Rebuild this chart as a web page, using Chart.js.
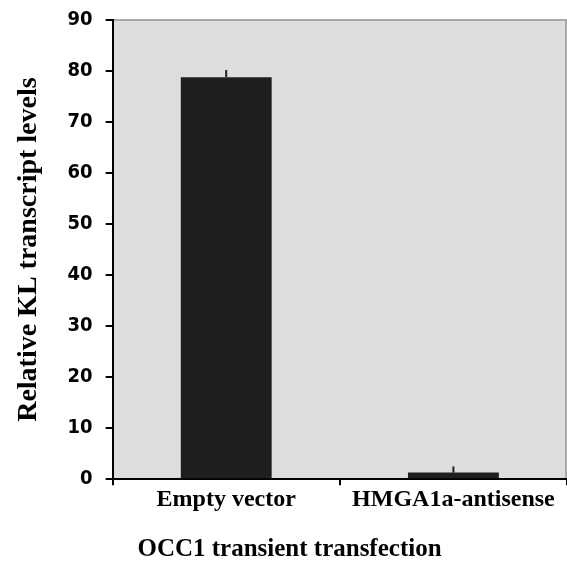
<!DOCTYPE html>
<html>
<head>
<meta charset="UTF-8">
<title>KL transcript levels</title>
<script src="https://cdn.jsdelivr.net/npm/chart.js"></script>
<style>
  html, body { margin: 0; padding: 0; background: #fff; }
  #wrap { width: 567px; height: 562px; }
</style>
</head>
<body>
<div id="wrap"><canvas id="c" width="567" height="562"></canvas></div>
<script>
const categories = ['Empty vector', 'HMGA1a-antisense'];
const levels = [78.8, 1.3];
const errors = [1.4, 1.2];
const yTicks = [0, 10, 20, 30, 40, 50, 60, 70, 80, 90];

const serif = "'Liberation Serif', 'Times New Roman', serif";
const narrow = "'DejaVu Sans Condensed', 'Liberation Sans', Arial, sans-serif";

// grey plot background + thin frame on top/right
const panel = {
  id: 'panel',
  beforeDraw(chart) {
    const { ctx, chartArea: a } = chart;
    ctx.save();
    ctx.fillStyle = '#dddddd';
    ctx.fillRect(a.left, a.top, a.right - a.left, a.bottom - a.top);
    ctx.strokeStyle = '#a8a8a8';
    ctx.lineWidth = 2;
    ctx.beginPath();
    ctx.moveTo(a.left, a.top);
    ctx.lineTo(a.right - 1, a.top);
    ctx.lineTo(a.right - 1, a.bottom);
    ctx.stroke();
    ctx.restore();
  }
};

// upward error bars only
const errBars = {
  id: 'errBars',
  afterDatasetsDraw(chart) {
    const { ctx, scales } = chart;
    const meta = chart.getDatasetMeta(0);
    ctx.save();
    ctx.strokeStyle = '#1e1e1e';
    ctx.lineWidth = 2;
    meta.data.forEach((bar, i) => {
      const yTop = scales.y.getPixelForValue(levels[i] + errors[i]);
      ctx.beginPath();
      ctx.moveTo(bar.x, bar.y);
      ctx.lineTo(bar.x, yTop);
      ctx.stroke();
    });
    ctx.restore();
  }
};

new Chart(document.getElementById('c'), {
  type: 'bar',
  data: {
    labels: categories,
    datasets: [{
      data: levels,
      backgroundColor: '#1e1e1e',
      borderWidth: 0,
      categoryPercentage: 1,
      barPercentage: 0.4
    }]
  },
  options: {
    responsive: false,
    animation: false,
    layout: { padding: { left: 12, right: 0, top: 0, bottom: 0 } },
    plugins: {
      legend: { display: false },
      tooltip: { enabled: false },
      title: {
        display: true,
        position: 'bottom',
        text: 'OCC1 transient transfection',
        color: '#000',
        padding: { top: 23, bottom: 0 },
        font: { family: serif, size: 25, weight: 'bold', lineHeight: 1 }
      }
    },
    scales: {
      x: {
        grid: { offset: true, drawOnChartArea: false, drawTicks: true, tickLength: 6, color: '#000', lineWidth: 2 },
        border: { color: '#000', width: 2 },
        ticks: { color: '#000', padding: 0, font: { family: serif, size: 24, weight: 'bold' } }
      },
      y: {
        min: 0,
        max: 90,
        afterBuildTicks(axis) { axis.ticks = yTicks.map(v => ({ value: v })); },
        afterFit(axis) { axis.paddingTop = 20; },
        grid: { drawOnChartArea: false, drawTicks: true, tickLength: 7, color: '#000', lineWidth: 2 },
        border: { color: '#000', width: 2 },
        ticks: { color: '#000', padding: 13, font: { family: narrow, size: 20, weight: 'bold' } },
        title: {
          display: true,
          text: 'Relative KL transcript levels',
          color: '#000',
          padding: { top: 0, bottom: 9 },
          font: { family: serif, size: 28, weight: 'bold' }
        }
      }
    }
  },
  plugins: [panel, errBars]
});
</script>
</body>
</html>
